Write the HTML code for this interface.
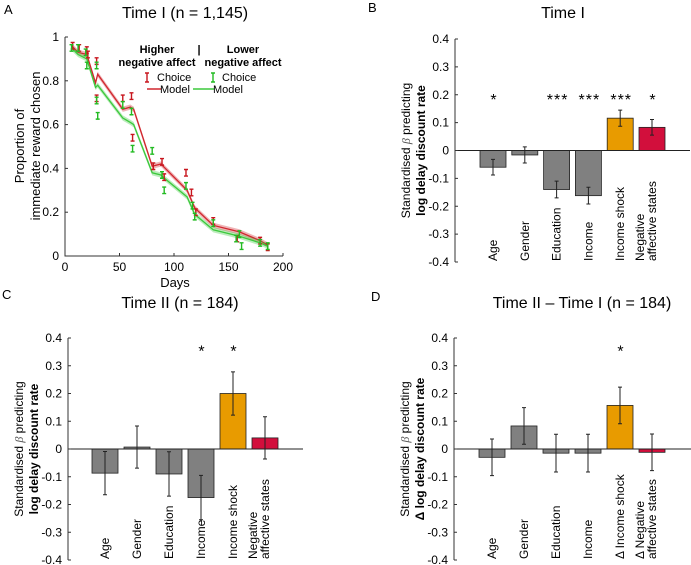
<!DOCTYPE html>
<html><head><meta charset="utf-8">
<style>
html,body{margin:0;padding:0;background:#fff;}
svg{display:block;font-family:"Liberation Sans",sans-serif;}
</style></head>
<body>
<svg id="fig" width="691" height="565" viewBox="0 0 691 565"></svg>
<script>
// ---- Panel A data ----
const modelDays = [6,12,20,28,30,53,60,63,80,88,90,112,119,136,160,179,186];
const modelHigh = [0.96,0.93,0.92,0.79,0.83,0.67,0.68,0.67,0.41,0.42,0.41,0.30,0.22,0.14,0.11,0.07,0.05];
const modelLow  = [0.95,0.92,0.90,0.77,0.78,0.63,0.61,0.60,0.38,0.37,0.36,0.27,0.19,0.12,0.09,0.06,0.045];
const choiceHighDays = [7,13,20,21,29,29,53,61,62,81,89,91,111,116,120,136,158,179,186];
const choiceHigh = [0.96,0.95,0.94,0.92,0.89,0.72,0.72,0.73,0.54,0.41,0.43,0.36,0.38,0.29,0.20,0.16,0.08,0.07,0.04];
const choiceLowDays = [6,12,19,20,29,30,29,53,61,62,80,89,91,111,117,119,136,157,160,162,179,186];
const choiceLow = [0.95,0.95,0.93,0.87,0.87,0.64,0.71,0.69,0.66,0.49,0.48,0.37,0.30,0.32,0.23,0.18,0.15,0.08,0.10,0.045,0.06,0.045];
const xTicksA = [0,50,100,150,200];
const yTicksA = [0,0.2,0.4,0.6,0.8,1];
const yTickLabelsA = ["0","0.2","0.4","0.6","0.8","1"];

// ---- Bar panels data ----
const catsB = ["Age","Gender","Education","Income","Income shock",["Negative","affective states"]];
const valsB = [-0.06,-0.016,-0.14,-0.162,0.116,0.083];
const errsB = [0.028,0.029,0.03,0.03,0.029,0.028];
const starsB = ["*","","***","***","***","*"];
const catsC = ["Age","Gender","Education","Income","Income shock",["Negative","affective states"]];
const valsC = [-0.087,0.007,-0.09,-0.175,0.2,0.04];
const errsC = [0.078,0.076,0.08,0.08,0.078,0.076];
const starsC = ["","","","*","*",""];
const catsD = ["Age","Gender","Education","Income","\u0394 Income shock",["\u0394 Negative","affective states"]];
const valsD = [-0.03,0.083,-0.015,-0.015,0.157,-0.012];
const errsD = [0.066,0.066,0.068,0.068,0.066,0.066];
const starsD = ["","","","","*",""];
const yTicksBar = [0.4,0.3,0.2,0.1,0,-0.1,-0.2,-0.3,-0.4];
const yTickLabelsBar = ["0.4","0.3","0.2","0.1","0","-0.1","-0.2","-0.3","-0.4"];

const NS="http://www.w3.org/2000/svg";
const svg=document.getElementById('fig');
function mk(tag,attrs,parent,text){
  const e=document.createElementNS(NS,tag);
  for(const k in attrs) e.setAttribute(k,attrs[k]);
  if(text!==undefined) e.textContent=text;
  (parent||svg).appendChild(e);
  return e;
}

// ===== Panel A =====
(function(){
  const x0=65,x1=283,yb=256,yt=37;
  const sx=d=>x0+(d/200)*(x1-x0);
  const sy=v=>yb-v*(yb-yt);
  const g=mk('g',{});
  
  
  const lt=mk('text',{x:4,y:14,'font-size':13},g,'A');
  
  
  const tt=mk('text',{x:185,y:18,'font-size':16,'text-anchor':'middle'},g,'Time I (n = 1,145)');
  
  
  function band(days,vals,color,name){
    let top='',bot='';
    days.forEach((d,i)=>{top+=(i?'L':'M')+sx(d)+','+sy(vals[i]+0.012);});
    for(let i=days.length-1;i>=0;i--) bot+='L'+sx(days[i])+','+sy(vals[i]-0.012);
    const b=mk('path',{d:top+bot+'Z',fill:color,opacity:0.35},g);
    
    
    const pts=days.map((d,i)=>sx(d)+','+sy(vals[i])).join(' ');
    const l=mk('polyline',{points:pts,fill:'none',stroke:color,'stroke-width':1.3},g);
    
    
  }
  band(modelDays,modelHigh,'#d0262d','model-high');
  band(modelDays,modelLow,'#3cc83c','model-low');
  function errs(days,vals,color,name){
    days.forEach((d,i)=>{
      const x=sx(d),ya=sy(vals[i]+0.015),yb2=sy(vals[i]-0.015);
      const p=mk('path',{d:`M${x},${ya}V${yb2}M${x-2},${ya}H${x+2}M${x-2},${yb2}H${x+2}`,stroke:color,'stroke-width':1.4,fill:'none'},g);
      
      
    });
  }
  errs(choiceHighDays,choiceHigh,'#c8161e','choice-high-point');
  errs(choiceLowDays,choiceLow,'#22bb22','choice-low-point');
  const ax=mk('path',{d:`M${x0},${yt}V${yb}H${x1}`,stroke:'#333',fill:'none','stroke-width':1},g);
  
  
  xTicksA.forEach(t=>{
    mk('line',{x1:sx(t),x2:sx(t),y1:yb,y2:yb-3,stroke:'#333'},g);
    const e=mk('text',{x:sx(t),y:yb+15,'font-size':12,'text-anchor':'middle'},g,String(t));
    
    
  });
  yTicksA.forEach((t,i)=>{
    mk('line',{x1:x0,x2:x0+3,y1:sy(t),y2:sy(t),stroke:'#333'},g);
    const e=mk('text',{x:x0-6,y:sy(t)+4,'font-size':12,'text-anchor':'end'},g,yTickLabelsA[i]);
    
    
  });
  const xt=mk('text',{x:175,y:287,'font-size':13,'text-anchor':'middle'},g,'Days');
  
  
  const yl=mk('text',{transform:'translate(24,146) rotate(-90)','font-size':13,'text-anchor':'middle'},g,'Proportion of');
  
  
  mk('text',{transform:'translate(40,146) rotate(-90)','font-size':13,'text-anchor':'middle'},g,'immediate reward chosen');
  const lg=mk('g',{'font-size':11},g);
  
  
  mk('text',{x:157,y:53,'text-anchor':'middle','font-weight':'bold'},lg,'Higher');
  mk('text',{x:157,y:66,'text-anchor':'middle','font-weight':'bold'},lg,'negative affect');
  mk('text',{x:199,y:53,'text-anchor':'middle','font-weight':'bold'},lg,'|');
  mk('text',{x:243,y:53,'text-anchor':'middle','font-weight':'bold'},lg,'Lower');
  mk('text',{x:243,y:66,'text-anchor':'middle','font-weight':'bold'},lg,'negative affect');
  mk('path',{d:'M147,73V82M145,73H149M145,82H149',stroke:'#c8161e','stroke-width':1.4},lg);
  mk('text',{x:157,y:81},lg,'Choice');
  mk('path',{d:'M213,73V82M211,73H215M211,82H215',stroke:'#22bb22','stroke-width':1.4},lg);
  mk('text',{x:222,y:81},lg,'Choice');
  mk('line',{x1:147,x2:161,y1:89,y2:89,stroke:'#d0262d','stroke-width':1.5},lg);
  mk('text',{x:160,y:93},lg,'Model');
  mk('line',{x1:193,x2:214,y1:89,y2:89,stroke:'#3cc83c','stroke-width':1.5},lg);
  mk('text',{x:213,y:93},lg,'Model');
})();

// ===== Bar panels =====
function barPanel(opt){
  const {name,letter,lx,ly,title,tx,ty,ax0,yt,yb,firstX,step,zeroEnd,cats,vals,errs,stars,starV,ylab2,ylx,bw}=opt;
  const sy=v=>yt+(0.4-v)/0.8*(yb-yt);
  const sx=i=>firstX+i*step;
  const g=mk('g',{});
  
  
  const le=mk('text',{x:lx,y:ly,'font-size':13},g,letter);
  
  
  const te=mk('text',{x:tx,y:ty,'font-size':16,'text-anchor':'middle'},g,title);
  
  
  const colors=['#808080','#808080','#808080','#808080','#e89b00','#d20f3c'];
  vals.forEach((v,i)=>{
    const x=sx(i),y0=sy(0),y1=sy(v);
    const r=mk('rect',{x:x-bw/2,y:Math.min(y0,y1),width:bw,height:Math.abs(y1-y0),fill:colors[i],stroke:'#222','stroke-width':0.8},g);
    
    
  });
  const zl=mk('line',{x1:ax0,x2:zeroEnd,y1:sy(0),y2:sy(0),stroke:'#222','stroke-width':1},g);
  
  
  vals.forEach((v,i)=>{
    const x=sx(i),ya=sy(v+errs[i]),yb2=sy(v-errs[i]);
    const p=mk('path',{d:`M${x},${ya}V${yb2}M${x-2},${ya}H${x+2}M${x-2},${yb2}H${x+2}`,stroke:'#222','stroke-width':1,fill:'none'},g);
    
    
    if(stars[i]){
      const s=mk('text',{x:x+1,y:sy(starV)+10,'font-size':16,'text-anchor':'middle','letter-spacing':'1'},g,stars[i]);
      
      
    }
  });
  const a=mk('line',{x1:ax0,x2:ax0,y1:yt,y2:yb,stroke:'#333'},g);
  
  
  yTicksBar.forEach((t,i)=>{
    mk('line',{x1:ax0,x2:ax0+3,y1:sy(t),y2:sy(t),stroke:'#333'},g);
    const e=mk('text',{x:ax0-6,y:sy(t)+4,'font-size':12,'text-anchor':'end'},g,yTickLabelsBar[i]);
    
    
  });
  cats.forEach((c,i)=>{
    const lines=Array.isArray(c)?c:[c];
    lines.forEach((ln,j)=>{
      const x=sx(i)+4-(lines.length-1-j)*12;
      const e=mk('text',{transform:`translate(${x},${yb-1}) rotate(-90)`,'font-size':12},g,ln);
      
      
    });
  });
  const cy=(yt+yb)/2;
  const y1e=mk('text',{transform:`translate(${ylx},${cy}) rotate(-90)`,'font-size':12,'text-anchor':'middle'},g);
  
  
  mk('tspan',{},y1e,'Standardised ');
  mk('tspan',{'font-family':'"Liberation Serif",serif','font-style':'italic','fill':'#555'},y1e,'\u03B2');
  mk('tspan',{},y1e,' predicting');
  mk('text',{transform:`translate(${ylx+15},${cy}) rotate(-90)`,'font-size':12,'text-anchor':'middle','font-weight':'bold'},g,ylab2);
}
barPanel({name:'panel-b',letter:'B',lx:368,ly:12,title:'Time I',tx:563,ty:18,ax0:455,yt:39,yb:262,firstX:493,step:31.8,zeroEnd:690,cats:catsB,vals:valsB,errs:errsB,stars:starsB,starV:0.2,ylab2:'log delay discount rate',ylx:410,bw:26});
barPanel({name:'panel-c',letter:'C',lx:2,ly:299,title:'Time II (n = 184)',tx:180,ty:308,ax0:68,yt:338,yb:560,firstX:105,step:32,zeroEnd:303,cats:catsC,vals:valsC,errs:errsC,stars:starsC,starV:0.37,ylab2:'log delay discount rate',ylx:23,bw:26});
barPanel({name:'panel-d',letter:'D',lx:371,ly:301,title:'Time II \u2013 Time I (n = 184)',tx:582,ty:308,ax0:454,yt:338,yb:560,firstX:492,step:32,zeroEnd:691,cats:catsD,vals:valsD,errs:errsD,stars:starsD,starV:0.37,ylab2:'\u0394 log delay discount rate',ylx:409,bw:26});
</script>
</body></html>
